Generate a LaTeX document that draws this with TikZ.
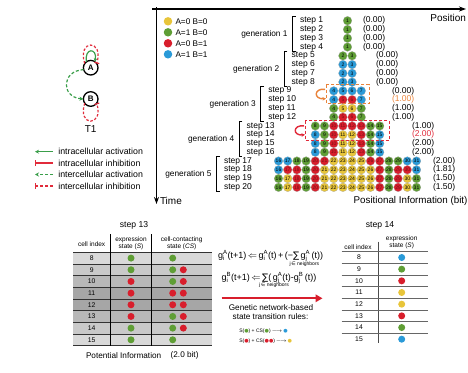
\documentclass[tikz,border=0pt]{standalone}
\usepackage{amsmath}
\usepackage{fontspec}
\setmainfont{Liberation Sans}
\newfontfamily\dejavu{DejaVu Sans}
\usetikzlibrary{arrows.meta}
\definecolor{cY}{HTML}{E8C53A}
\definecolor{cG}{HTML}{5F9E35}
\definecolor{cR}{HTML}{D81E2C}
\definecolor{cB}{HTML}{2A9AD8}
\definecolor{cO}{HTML}{E9833A}
\definecolor{cRd}{HTML}{E12B3B}
\definecolor{cGa}{HTML}{3A9E4A}
\colorlet{tY}{black}\colorlet{tG}{black}\colorlet{tB}{black}
\colorlet{tR}{cR!55!black}
\newcommand{\crow}[4]{%
  \foreach \c [count=\i from 0] in {#4} {%
    \pgfmathtruncatemacro{\n}{#2+\i}%
    \pgfmathsetmacro{\xx}{#3+\i*9.2}%
    \pgfmathsetmacro{\yy}{-(20.7+(#1-1)*8.77)}%
    \node[cell, fill=c\c, text=t\c] (c#1-\n) at (\xx,\yy) {\n};
  }}
\newcommand{\gv}[2]{g$^{\text{#1}}_{\text{#2}}$}
\newcommand{\sumn}[1]{\makebox[0pt][l]{\hspace*{#1}\raisebox{-6.5pt}{\fontsize{5}{5}\selectfont j\,{\dejavu ∈} neighbors}}{\dejavu ∑}}
\tikzset{
  cell/.style={circle, minimum size=8.7pt, inner sep=0pt, draw=black!35, line width=0.2pt, font=\fontsize{5}{5}\selectfont},
  dot/.style={circle, minimum size=7pt, inner sep=0pt},
  lgdot/.style={circle, minimum size=8.5pt, inner sep=0pt},
  steptxt/.style={anchor=west, font=\fontsize{8.5}{9}\selectfont},
  gentxt/.style={anchor=east, font=\fontsize{8.3}{9}\selectfont},
  pitxt/.style={anchor=west, font=\fontsize{8.5}{9}\selectfont},
  bracket/.style={line width=1.1pt},
  axis/.style={line width=1.1pt, -{Stealth[length=7pt,width=5pt]}},
  hdr/.style={font=\fontsize{6.5}{7}\selectfont, align=center},
  idx/.style={font=\fontsize{6.8}{7}\selectfont},
  lgline/.style={line width=1.4pt},
  gnode/.style={circle, draw, line width=1.3pt, minimum size=14.6pt, inner sep=0pt, font=\bfseries\fontsize{8}{8}\selectfont},
}
\begin{document}
\begin{tikzpicture}[x=1pt,y=1pt,inner sep=0pt,outer sep=0pt]
\useasboundingbox (0,0) rectangle (468,-372);
% ---------- axes ----------
\coordinate (ax0) at (152,-9);
\coordinate (ax1) at (466,-9);
\coordinate (av0) at (156.5,-7);
\coordinate (av1) at (156.5,-204);
\draw[axis] (ax0) -- (ax1);
\draw[axis] (av0) -- (av1);
\node[anchor=east, font=\fontsize{10}{10}\selectfont] (lpos) at (466,-17.5) {Position};
\node[anchor=west, font=\fontsize{10}{10}\selectfont] (ltime) at (160,-200.5) {Time};
\node[anchor=east, font=\fontsize{9.8}{10}\selectfont] (lpi) at (467.5,-200.5) {Positional Information (bit)};
% ---------- state legend ----------
\foreach \c/\t [count=\k from 0] in {Y/A=0 B=0, G/A=1 B=0, R/A=0 B=1, B/A=1 B=1} {
  \node[lgdot, fill=c\c] (lg\k) at (168,{-(21.3+\k*11)}) {};
  \node[anchor=west, font=\fontsize{8.2}{9}\selectfont] (lgt\k) at (175.5,{-(21.3+\k*11)}) {\t};
}
% ---------- step labels ----------
\foreach \s/\x in {1/300,2/300,3/300,4/300,5/291.7,6/291.7,7/291.7,8/291.7,9/268.3,10/268.3,11/268.3,12/268.3,13/246.7,14/246.7,15/246.7,16/246.7,17/224,18/224,19/224,20/224} {
  \node[steptxt] (st\s) at (\x,{-(20.7+(\s-1)*8.77)}) {step \s};
}
% brackets and generation labels
\foreach \g/\f/\x in {1/1/300,2/5/291.7,3/9/268.3,4/13/246.7,5/17/224} {
  \pgfmathsetmacro{\yt}{-(20.7+(\f-1)*8.77)+4.6}
  \pgfmathsetmacro{\yb}{-(20.7+(\f+2)*8.77)-4.6}
  \pgfmathsetmacro{\xb}{\x-7.5}
  \draw[bracket] (\xb+3.2,\yt) -- (\xb,\yt) -- (\xb,\yb) -- (\xb+3.2,\yb);
  \node[gentxt] (gen\g) at (\xb-5,{(\yt+\yb)/2}) {generation \g};
}
% ---------- cells ----------
\crow{1}{1}{347.5}{G}
\crow{2}{1}{347.5}{G}
\crow{3}{1}{347.5}{G}
\crow{4}{1}{347.5}{G}
\crow{5}{2}{342.9}{G,G}
\crow{6}{2}{342.9}{B,B}
\crow{7}{2}{342.9}{B,B}
\crow{8}{2}{342.9}{B,B}
\crow{9}{4}{333.7}{B,B,B,B}
\crow{10}{4}{333.7}{B,R,R,B}
\crow{11}{4}{333.7}{G,Y,Y,G}
\crow{12}{4}{333.7}{G,R,R,G}
\crow{13}{8}{315.3}{G,G,R,R,R,R,G,G}
\crow{14}{8}{315.3}{B,G,R,Y,Y,R,G,B}
\crow{15}{8}{315.3}{B,G,R,Y,Y,R,G,B}
\crow{16}{8}{315.3}{B,G,R,Y,Y,R,G,B}
\crow{17}{16}{278.5}{B,B,G,G,R,R,Y,Y,Y,Y,R,R,G,G,B,B}
\crow{18}{16}{278.5}{B,R,R,G,R,Y,Y,Y,Y,Y,Y,R,G,R,R,B}
\crow{19}{16}{278.5}{G,Y,R,G,R,Y,Y,Y,Y,Y,Y,R,G,R,Y,G}
\crow{20}{16}{278.5}{G,Y,R,G,R,Y,Y,Y,Y,Y,Y,R,G,R,Y,G}
% ---------- positional information values ----------
\foreach \s/\x/\v/\col in {1/363/0.00/black,2/363/0.00/black,3/363/0.00/black,4/363/0.00/black,
  5/376/0.00/black,6/376/0.00/black,7/376/0.00/black,8/376/0.00/black,
  9/392/0.00/black,10/392/1.00/cO,11/392/1.00/black,12/392/1.00/black,
  13/412/1.00/black,14/412/2.00/cRd,15/412/2.00/black,16/412/2.00/black,
  17/433/2.00/black,18/433/1.81/black,19/433/1.50/black,20/433/1.50/black} {
  \node[pitxt, text=\col] (pi\s) at (\x,{-(20.7+(\s-1)*8.77)}) {(\v)};
}
% ---------- highlight boxes ----------
\draw[cO, line width=0.9pt, dash pattern=on 3pt off 2pt] (326,-84.5) rectangle (369,-103);
\coordinate (oa) at (325,-89.3);
\coordinate (ob) at (326,-98.6);
\draw[cO, line width=1.4pt, -{Stealth[length=3.5pt,width=3.5pt]}] (oa) .. controls (313.5,-88) and (313.5,-99.5) .. (ob);
\draw[cRd, line width=0.9pt, dash pattern=on 3pt off 2pt] (305,-120.5) rectangle (389,-140);
\coordinate (ra) at (304,-125.9);
\coordinate (rb) at (305,-134.7);
\draw[cRd, line width=1.4pt, -{Stealth[length=3.5pt,width=3.5pt]}] (ra) .. controls (292.5,-124.5) and (292.5,-136) .. (rb);
% ---------- T1 network ----------
\node[gnode] (nA) at (90.7,-67.7) {A};
\node[gnode] (nB) at (90.7,-99) {B};
\draw[cRd, line width=1.2pt, dash pattern=on 2.5pt off 1.8pt, -{Bar[width=5pt]}] (nA.145) .. controls (77,-39) and (104,-39) .. (nA.35);
\draw[cGa, line width=1.2pt, -{Stealth[length=3.5pt,width=3.5pt]}] (nA.125) .. controls (84,-47.5) and (97.5,-47.5) .. (nA.55);
\draw[cGa, line width=1.2pt, dash pattern=on 3pt off 2pt, -{Stealth[length=4pt,width=4pt]}] (nA.195) .. controls (61,-71) and (61,-97) .. (nB.180);
\draw[cRd, line width=1.2pt, dash pattern=on 2.5pt off 1.8pt, -{Bar[width=5pt]}] (nB.215) .. controls (77,-127) and (104,-127) .. (nB.325);
\node[font=\fontsize{10}{10}\selectfont] (t1) at (90.7,-129) {T1};
% ---------- interaction legend ----------
\foreach \k/\t in {0/intracellular activation,1/intracellular inhibition,2/intercellular activation,3/intercellular inhibition} {
  \coordinate (la\k) at (35,{-(151.7+\k*11.4)});
  \coordinate (lb\k) at (53,{-(151.7+\k*11.4)});
  \node[anchor=west, font=\fontsize{8.8}{9}\selectfont] (lt\k) at (58.3,{-(151.7+\k*11.4)}) {\t};
}
\draw[lgline, cGa, -{Stealth[length=4pt,width=4pt]}] (lb0) -- (la0);
\draw[lgline, cRd, -{Bar[width=6pt]}] (lb1) -- (la1);
\draw[lgline, cGa, dash pattern=on 3pt off 2pt, -{Stealth[length=4pt,width=4pt]}] (lb2) -- (la2);
\draw[lgline, cRd, dash pattern=on 3pt off 2pt, -{Bar[width=6pt]}] (lb3) -- (la3);
% ---------- step 13 table ----------
\node[font=\fontsize{8.6}{9}\selectfont] (s13) at (134,-225) {step 13};
\foreach \k/\sh in {0/15,1/21,2/28,3/35,4/35,5/28,6/21,7/15} {
  \fill[black!\sh] (73.3,{-(252.3+\k*11.67)}) rectangle (211.7,{-(252.3+(\k+1)*11.67)});
}
\foreach \k in {0,...,8} {
  \draw[black!80, line width=0.6pt] (73.3,{-(252.3+\k*11.67)}) -- (211.7,{-(252.3+\k*11.67)});
}
\draw[black, line width=0.6pt] (110,-234) -- (110,-345.6);
\draw[black, line width=0.6pt] (151.7,-234) -- (151.7,-345.6);
\node[hdr] (h1) at (91.7,-244) {cell index};
\node[hdr] (h2) at (131,-243.5) {expression\\[-0.5pt]state (\textit{S})};
\node[hdr] (h3) at (181.7,-243.5) {cell-contacting\\[-0.5pt]state (\textit{CS})};
\foreach \k/\c in {0/G,1/G,2/R,3/R,4/R,5/R,6/G,7/G} {
  \pgfmathtruncatemacro{\n}{8+\k}
  \node[idx] (ti\k) at (91.7,{-(258.1+\k*11.67)}) {\n};
  \node[dot, fill=c\c] (te\k) at (131,{-(258.1+\k*11.67)}) {};
}
\foreach \k/\c in {0/G,1/G,2/G,3/R,4/R,5/G,6/G,7/G} {
  \node[dot, fill=c\c] (tca\k) at (172.7,{-(258.1+\k*11.67)}) {};
}
\foreach \k in {1,...,6} {
  \node[dot, fill=cR] (tcb\k) at (183.3,{-(258.1+\k*11.67)}) {};
}
\node[anchor=west, font=\fontsize{8.2}{9}\selectfont] (potl) at (86,-355.5) {Potential Information};
\node[anchor=west, font=\fontsize{8.2}{9}\selectfont] (potv) at (170.7,-355.5) {(2.0 bit)};
% ---------- equations and rules ----------
\node[anchor=west, font=\fontsize{9}{10}\selectfont] (eq1) at (218,-258.5) {\gv{A}{i}(t+1)\,$\Leftarrow$\,\gv{A}{i}(t)\,+\,(−\sumn{-3.5pt}\,\gv{A}{j}\,(t))};
\node[anchor=west, font=\fontsize{9}{10}\selectfont] (eq2) at (221.7,-280) {\gv{B}{i}(t+1)\,$\Leftarrow$\,\sumn{-3pt}(\,\gv{A}{j}(t)-\gv{B}{j}\,(t))};
\coordinate (ar0) at (221.7,-298.3);
\coordinate (ar1) at (322.5,-298.3);
\draw[cR, line width=2.3pt, -{Triangle[length=7pt,width=7.5pt]}] (ar0) -- (ar1);
\node[font=\fontsize{8.2}{9}\selectfont] (gn1) at (271,-308) {Genetic network-based};
\node[font=\fontsize{8.2}{9}\selectfont] (gn2) at (270.5,-317) {state transition rules:};
\node[anchor=west, font=\fontsize{5}{6}\selectfont] (rule1) at (239.3,-331) {S({\dejavu\color{cG}●}) + CS({\dejavu\color{cG}●})\,$\longrightarrow$\,{\dejavu\color{cB}●}};
\node[anchor=west, font=\fontsize{5}{6}\selectfont] (rule2) at (239.3,-341.7) {S({\dejavu\color{cR}●}) + CS({\dejavu\color{cR}●●})\,$\longrightarrow$\,{\dejavu\color{cY}●}};
% ---------- step 14 table ----------
\node[font=\fontsize{8.6}{9}\selectfont] (s14) at (380,-225.7) {step 14};
\node[hdr] (h4) at (358,-246.7) {cell index};
\node[hdr] (h5) at (401.7,-242.5) {expression\\[-0.5pt]state (\textit{S})};
\draw[black!70, line width=0.7pt] (378.3,-241.7) -- (378.3,-343.3);
\foreach \k in {0,...,7} {
  \draw[black!60, line width=0.8pt] (341.7,{-(251.7+\k*11.67)}) -- (428.3,{-(251.7+\k*11.67)});
}
\foreach \k/\c in {0/B,1/G,2/R,3/Y,4/Y,5/R,6/G,7/B} {
  \pgfmathtruncatemacro{\n}{8+\k}
  \node[idx] (ri\k) at (359,{-(257.5+\k*11.67)}) {\n};
  \node[dot, fill=c\c] (re\k) at (401.7,{-(257.5+\k*11.67)}) {};
}
\end{tikzpicture}
\end{document}
